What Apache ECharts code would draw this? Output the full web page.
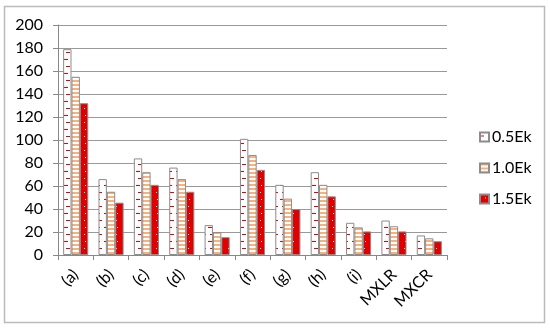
<!DOCTYPE html>
<html><head><meta charset="utf-8">
<script src="https://cdn.jsdelivr.net/npm/echarts@6/dist/echarts.min.js"></script>
<style>html,body{margin:0;padding:0;background:#fff}#c{width:550px;height:328px}</style>
</head><body><div id="c"></div>
<script>
const categories = ['(a)','(b)','(c)','(d)','(e)','(f)','(g)','(h)','(i)','MXLR','MXCR'];
const seriesNames = ['0.5Ek','1.0Ek','1.5Ek'];
const s05 = [179, 66, 84, 76, 26, 101, 61, 72, 28, 30, 17];
const s10 = [155, 55, 72, 66, 20, 87, 49, 61, 24, 25, 14.5];
const s15 = [132, 45.5, 61, 55, 15.5, 74, 40, 51, 20.5, 20.5, 12];
const yTicks = {min: 0, max: 200, interval: 20};

function mk(w, h, draw) {
  const c = document.createElement('canvas');
  c.width = w; c.height = h;
  const g = c.getContext('2d');
  draw(g);
  return {image: c, repeat: 'repeat'};
}
const pat05 = mk(8, 14, g => {
  g.fillStyle = '#fff'; g.fillRect(0, 0, 8, 14);
  g.fillStyle = '#e80000';
  g.fillRect(0, 3, 4, 1);
  g.fillRect(2, 10, 4, 1);
});
const pat10 = mk(4, 4, g => {
  g.fillStyle = '#fff'; g.fillRect(0, 0, 4, 4);
  g.fillStyle = '#fbb07a';
  g.fillRect(0, 0, 4, 2);
});
const pat15 = mk(8, 14, g => {
  g.fillStyle = '#e00000'; g.fillRect(0, 0, 8, 14);
  g.fillStyle = '#ffe0e0';
  g.fillRect(5, 3, 1, 1);
  g.fillRect(4, 10, 1, 1);
});
const pats = [pat05, pat10, pat15];
const datas = [s05, s10, s15];

const font = 'Lato, "Open Sans", sans-serif';
const chart = echarts.init(document.getElementById('c'));
chart.setOption({
  animation: false,
  backgroundColor: '#fff',
  graphic: [{type: 'rect', shape: {x: 4.5, y: 6.5, width: 540, height: 316}, style: {fill: 'none', stroke: '#bbbbbb', lineWidth: 1.5}, z: -1}],
  grid: {left: 58, right: 103, top: 25, bottom: 73},
  legend: {
    orient: 'vertical', left: 474, top: 124, itemWidth: 9, itemHeight: 9, itemGap: 15,
    icon: 'rect',
    textStyle: {fontFamily: font, fontSize: 16, color: '#000', padding: [0, 0, 0, -2]},
    data: seriesNames
  },
  xAxis: {
    type: 'category', data: categories,
    axisLine: {lineStyle: {color: '#888', width: 1}},
    axisTick: {show: true, length: 5, lineStyle: {color: '#888'}},
    axisLabel: {rotate: 45, fontFamily: font, fontSize: 16, color: '#000', margin: 17, interval: 0}
  },
  yAxis: {
    type: 'value', min: yTicks.min, max: yTicks.max, interval: yTicks.interval,
    axisLine: {show: true, lineStyle: {color: '#888', width: 1}},
    axisTick: {show: true, length: 5, lineStyle: {color: '#888'}},
    splitLine: {lineStyle: {color: '#999', width: 1}},
    axisLabel: {fontFamily: font, fontSize: 16, color: '#000', margin: 15}
  },
  series: seriesNames.map((n, i) => ({
    name: n, type: 'bar', data: datas[i],
    barGap: '0%', barCategoryGap: '29%',
    itemStyle: {color: pats[i], borderColor: '#8c8c8c', borderWidth: 1}
  }))
});
</script></body></html>
